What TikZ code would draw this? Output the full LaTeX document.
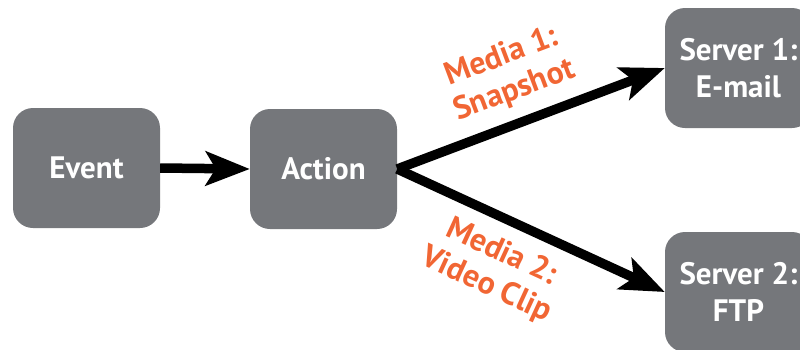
\documentclass[tikz,border=0pt]{standalone}
\usepackage{fontspec}
\setmainfont{PT Sans}
\usetikzlibrary{arrows.meta}
\definecolor{boxgray}{RGB}{117,119,123}
\definecolor{lblorange}{RGB}{241,102,52}
\begin{document}
\begin{tikzpicture}[x=1pt,y=-1pt,
 box/.style={fill=boxgray, rounded corners=20pt, minimum width=147pt, minimum height=120pt, text=white, font=\bfseries\fontsize{31}{37}\selectfont, align=center, inner sep=0pt},
 conn/.style={line width=9.5pt, -{Stealth[length=44pt,width=34pt,inset=10pt]}},
 lbl/.style={text=lblorange, font=\bfseries\fontsize{32}{36}\selectfont, align=center, sloped}]
\useasboundingbox (0,0) rectangle (800,349);
\clip (0,0) rectangle (800,349);
\node[box] (ev) at (86.5,168) {Event};
\node[box] (act) at (323.5,169) {Action};
\node[box] (s1) at (738.5,68) {Server 1:\\E-mail};
\node[box] (s2) at (738.5,292) {Server 2:\\FTP};
\draw[conn] (ev.east) -- (act.west);
\draw[conn] (act.east) -- node[lbl, pos=0.48, above=9pt] {Media 1:\\Snapshot} (s1.west);
\draw[conn] (act.east) -- node[lbl, pos=0.44, below=10pt] {Media 2:\\Video Clip} (s2.west);
\end{tikzpicture}
\end{document}
